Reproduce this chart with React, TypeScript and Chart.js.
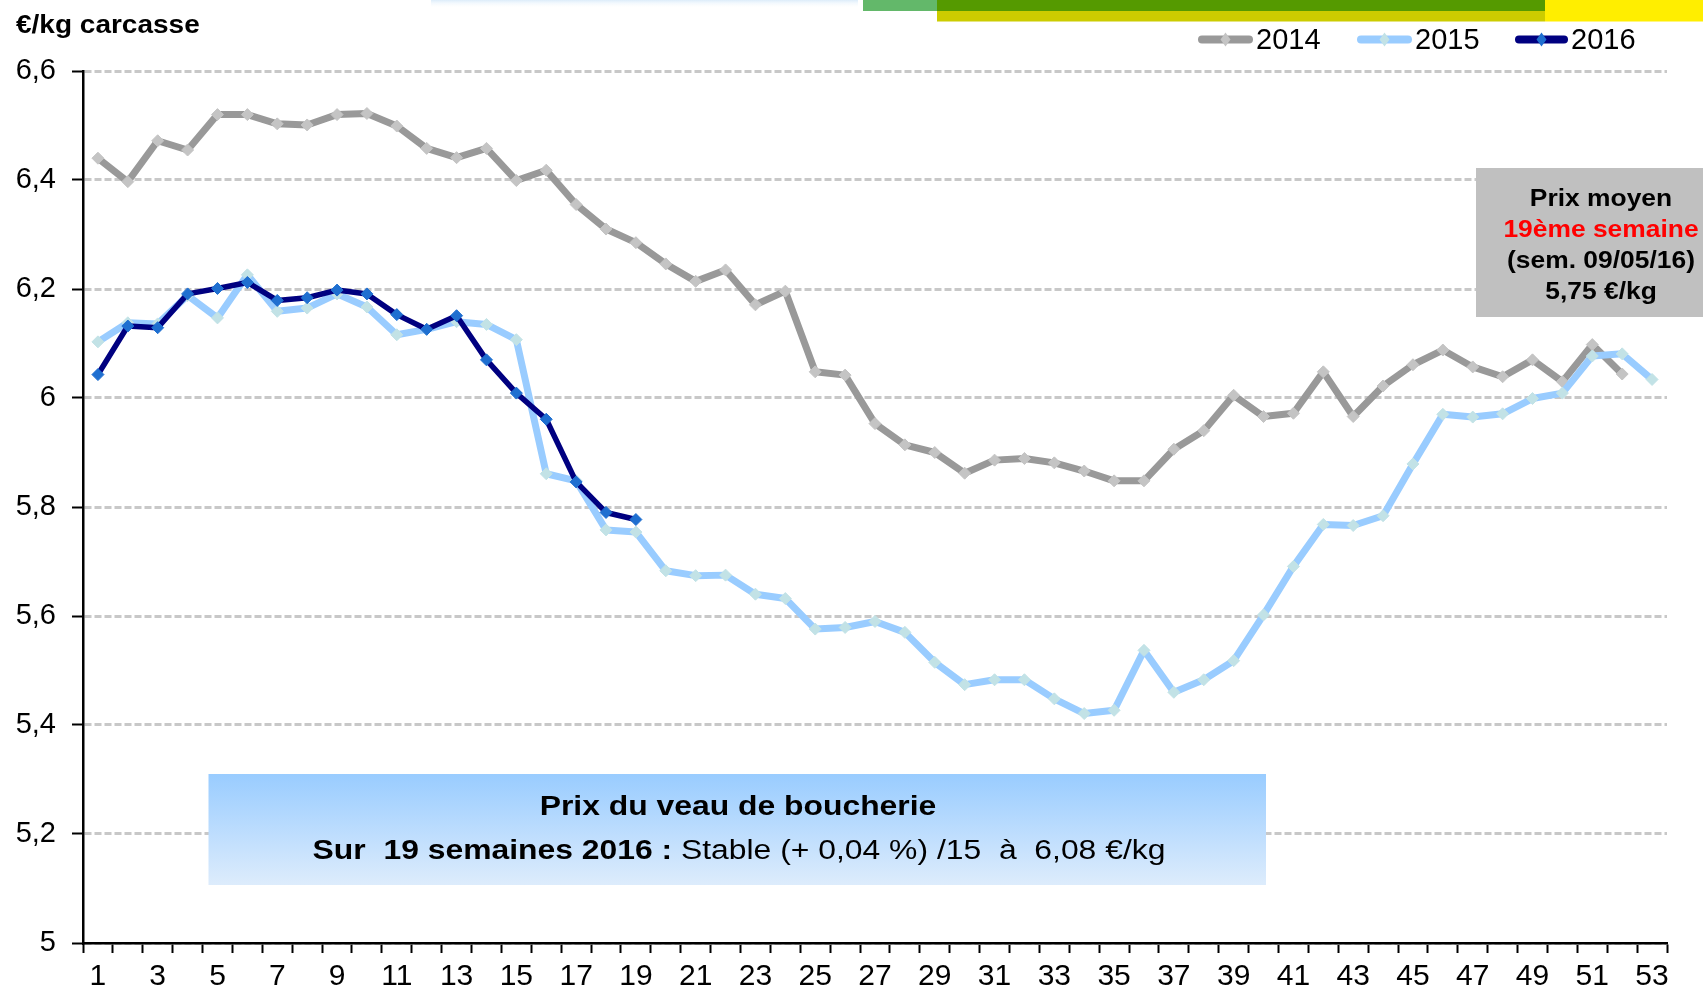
import React, { useEffect, useRef } from "react";
import { Chart, registerables } from "chart.js";

Chart.register(...registerables);

const weeks = [
  "1", "2", "3", "4", "5", "6", "7", "8", "9", "10",
  "11", "12", "13", "14", "15", "16", "17", "18", "19", "20",
  "21", "22", "23", "24", "25", "26", "27", "28", "29", "30",
  "31", "32", "33", "34", "35", "36", "37", "38", "39", "40",
  "41", "42", "43", "44", "45", "46", "47", "48", "49", "50",
  "51", "52", "53",
];

const prices2014 = [
  6.44, 6.397, 6.472, 6.455, 6.52, 6.52, 6.503, 6.501, 6.52, 6.522,
  6.499, 6.458, 6.441, 6.458, 6.399, 6.418, 6.355, 6.31, 6.285, 6.246,
  6.214, 6.235, 6.171, 6.196, 6.048, 6.042, 5.953, 5.914, 5.9, 5.862,
  5.886, 5.889, 5.881, 5.866, 5.848, 5.848, 5.906, 5.94, 6.005, 5.966,
  5.972, 6.048, 5.966, 6.022, 6.061, 6.088, 6.057, 6.039, 6.07, 6.03,
  6.098, 6.044, null,
];

const prices2015 = [
  6.103, 6.138, 6.136, 6.188, 6.147, 6.226, 6.159, 6.165, 6.191, 6.167,
  6.116, 6.126, 6.14, 6.135, 6.107, 5.861, 5.848, 5.758, 5.754, 5.683,
  5.674, 5.675, 5.64, 5.632, 5.576, 5.579, 5.59, 5.57, 5.515, 5.474,
  5.483, 5.483, 5.448, 5.421, 5.427, 5.537, 5.46, 5.483, 5.518, 5.602,
  5.691, 5.768, 5.766, 5.784, 5.879, 5.97, 5.965, 5.971, 5.999, 6.009,
  6.077, 6.081, 6.034,
];

const prices2016 = [
  6.043, 6.132, 6.129, 6.191, 6.201, 6.212, 6.179, 6.184, 6.198, 6.191,
  6.153, 6.126, 6.151, 6.07, 6.009, 5.961, 5.846, 5.79, 5.777,
];

const seriesLabels = ["2014", "2015", "2016"];
const lineColors = ["#999999", "#99ccff", "#000080"];
const markerColors = ["#c4c4c4", "#c2e2e6", "#1f6fd0"];

const yMin = 5;
const yMax = 6.6;
const yStep = 0.2;

const unitLabel = "€/kg carcasse";
const infoLines = ["Prix moyen", "19ème semaine", "(sem. 09/05/16)", "5,75 €/kg"];
const boxTitle = "Prix du veau de boucherie";
const boxBold = "Sur  19 semaines 2016 : ";
const boxRegular = "Stable (+ 0,04 %) /15  à  6,08 €/kg";

const FONT = "'Liberation Sans', Arial, Helvetica, sans-serif";

function fmtY(v: number | string) {
  const r = Math.round(Number(v) * 10) / 10;
  return String(r).replace(".", ",");
}

function stretchText(
  ctx: CanvasRenderingContext2D,
  text: string,
  x: number,
  y: number,
  sx: number,
  align: CanvasTextAlign
) {
  ctx.save();
  ctx.translate(x, y);
  ctx.scale(sx, 1);
  ctx.textAlign = align;
  ctx.textBaseline = "alphabetic";
  ctx.fillText(text, 0, 0);
  ctx.restore();
}

const decorPlugin = {
  id: "decor",
  beforeDraw(chart: any) {
    const ctx: CanvasRenderingContext2D = chart.ctx;
    ctx.save();
    const g = ctx.createLinearGradient(0, 0, 0, 8);
    g.addColorStop(0, "#dcecfa");
    g.addColorStop(1, "rgba(255,255,255,0)");
    ctx.fillStyle = g;
    ctx.fillRect(431, 0, 427, 8);
    ctx.fillStyle = "#63b86a";
    ctx.fillRect(863, 0, 74, 11);
    ctx.fillStyle = "#559a00";
    ctx.fillRect(937, 0, 608, 11);
    ctx.fillStyle = "#cccc00";
    ctx.fillRect(937, 11, 608, 10.5);
    ctx.fillStyle = "#ffee00";
    ctx.fillRect(1545, 0, 158, 21.5);
    ctx.restore();
  },
  afterDraw(chart: any) {
    const ctx: CanvasRenderingContext2D = chart.ctx;
    ctx.save();

    // unit label
    ctx.fillStyle = "#000";
    ctx.font = `bold 25px ${FONT}`;
    stretchText(ctx, unitLabel, 16, 33, 1.12, "left");

    // legend
    const items = [
      { sx: 1198, ex: 1253, tx: 1256 },
      { sx: 1357, ex: 1412, tx: 1415 },
      { sx: 1515, ex: 1568, tx: 1571 },
    ];
    chart.data.datasets.forEach((ds: any, i: number) => {
      const it = items[i];
      const y = 39.5;
      ctx.strokeStyle = ds.borderColor;
      ctx.lineWidth = 8;
      ctx.lineCap = "round";
      ctx.beginPath();
      ctx.moveTo(it.sx + 4, y);
      ctx.lineTo(it.ex - 4, y);
      ctx.stroke();
      const cx = (it.sx + it.ex) / 2;
      ctx.fillStyle = ds.pointBackgroundColor;
      ctx.beginPath();
      ctx.moveTo(cx, y - 7);
      ctx.lineTo(cx + 5, y);
      ctx.lineTo(cx, y + 7);
      ctx.lineTo(cx - 5, y);
      ctx.closePath();
      ctx.fill();
      ctx.fillStyle = "#000";
      ctx.font = `29px ${FONT}`;
      ctx.textAlign = "left";
      ctx.textBaseline = "alphabetic";
      ctx.fillText(ds.label, it.tx, 49);
    });

    // info box (right)
    ctx.fillStyle = "#c0c0c0";
    ctx.fillRect(1476, 168, 227, 149);
    ctx.font = `bold 24px ${FONT}`;
    const baselines = [206, 237, 268, 299];
    infoLines.forEach((t, i) => {
      ctx.fillStyle = i === 1 ? "#ff0000" : "#000000";
      stretchText(ctx, t, 1601, baselines[i], 1.1, "center");
    });

    // bottom box
    const bg = ctx.createLinearGradient(0, 774, 0, 885);
    bg.addColorStop(0, "#99ccff");
    bg.addColorStop(1, "#ddecfc");
    ctx.fillStyle = bg;
    ctx.fillRect(208.5, 774, 1057.5, 111);
    ctx.fillStyle = "#000";
    ctx.font = `bold 27px ${FONT}`;
    const sx = 1.18;
    stretchText(ctx, boxTitle, 738, 815, sx, "center");
    const wb = ctx.measureText(boxBold).width;
    ctx.font = `27px ${FONT}`;
    const wr = ctx.measureText(boxRegular).width;
    const total = (wb + wr) * sx;
    const startX = 739 - total / 2;
    ctx.font = `bold 27px ${FONT}`;
    stretchText(ctx, boxBold, startX, 859, sx, "left");
    ctx.font = `27px ${FONT}`;
    stretchText(ctx, boxRegular, startX + wb * sx, 859, sx, "left");

    ctx.restore();
  },
};

export default function App() {
  const ref = useRef<HTMLCanvasElement>(null);

  useEffect(() => {
    document.body.style.margin = "0";
    const canvas = ref.current;
    if (!canvas) return;
    const data = [prices2014, prices2015, prices2016];
    const widths = [7, 7, 5.5];
    const orders = [3, 2, 1];
    const chart = new Chart(canvas, {
      type: "line",
      data: {
        labels: weeks,
        datasets: seriesLabels.map((label, i) => ({
          label,
          data: data[i],
          borderColor: lineColors[i],
          backgroundColor: lineColors[i],
          borderWidth: widths[i],
          borderJoinStyle: "round",
          pointStyle: "rectRot",
          pointRadius: 6,
          pointBorderWidth: 1,
          pointBackgroundColor: markerColors[i],
          pointBorderColor: markerColors[i],
          tension: 0,
          fill: false,
          spanGaps: false,
          order: orders[i],
        })) as any,
      },
      options: {
        responsive: false,
        animation: false,
        devicePixelRatio: 1,
        events: [],
        layout: { padding: { top: 71, right: 36, left: 0, bottom: 0 } },
        plugins: {
          legend: { display: false },
          title: { display: false },
          tooltip: { enabled: false },
        },
        scales: {
          x: {
            type: "category",
            offset: true,
            grid: {
              display: true,
              drawOnChartArea: false,
              drawTicks: true,
              tickLength: 10,
              tickColor: "#000",
              tickWidth: 2,
              offset: true,
            },
            border: { display: true, color: "#000", width: 2.5 },
            ticks: {
              autoSkip: false,
              maxRotation: 0,
              minRotation: 0,
              padding: 6,
              color: "#000",
              font: { family: FONT, size: 30 },
              callback: (_v: any, i: number) => (i % 2 === 0 ? weeks[i] : ""),
            },
            afterFit: (s: any) => {
              s.height = 51;
            },
          },
          y: {
            min: yMin,
            max: yMax,
            ticks: {
              stepSize: yStep,
              padding: 16,
              color: "#000",
              font: { family: FONT, size: 29 },
              callback: (v: any) => fmtY(v),
            },
            grid: {
              color: "#c8c8c8",
              lineWidth: 3,
              drawTicks: true,
              tickLength: 11,
              tickColor: "#000",
              tickWidth: 2,
              tickBorderDash: [],
            },
            border: { display: true, color: "#000", width: 2.5, dash: [7, 3] },
            afterFit: (s: any) => {
              s.width = 83;
            },
          },
        },
      } as any,
      plugins: [decorPlugin],
    });
    return () => chart.destroy();
  }, []);

  return (
    <div>
      <canvas ref={ref} width={1703} height={994} style={{ display: "block" }} />
    </div>
  );
}
